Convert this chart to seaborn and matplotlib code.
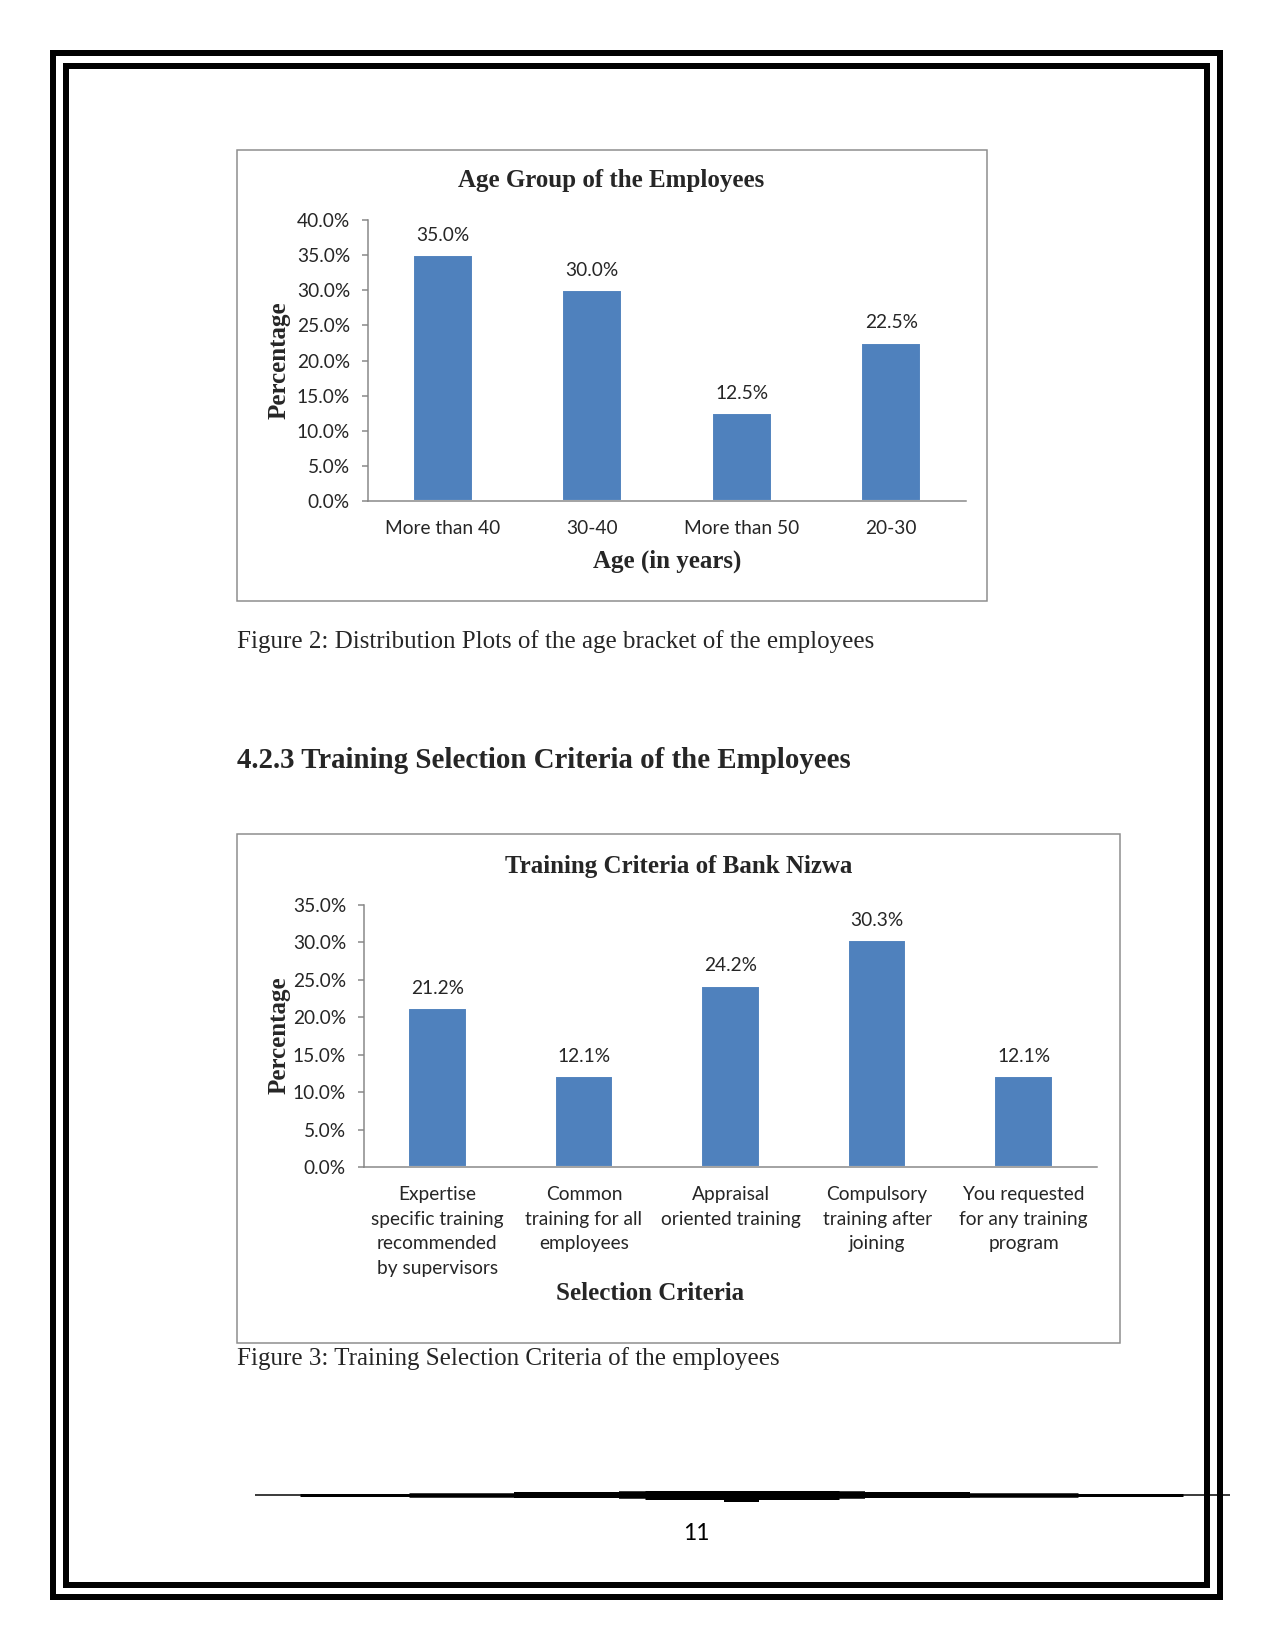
import matplotlib
matplotlib.use("Agg")
import matplotlib.pyplot as plt
import matplotlib.ticker as mticker
from matplotlib.patches import Rectangle
import pandas as pd
import seaborn as sns

# ---------------------------------------------------------------------------
# Data
# ---------------------------------------------------------------------------
age_groups = ["More than 40", "30-40", "More than 50", "20-30"]
age_share = [35.0, 30.0, 12.5, 22.5]

criteria = [
    "Expertise\nspecific training\nrecommended\nby supervisors",
    "Common\ntraining for all\nemployees",
    "Appraisal\noriented training",
    "Compulsory\ntraining after\njoining",
    "You requested\nfor any training\nprogram",
]
criteria_share = [21.2, 12.1, 24.2, 30.3, 12.1]

W, H, DPI = 1275, 1650, 150
BAR = "#4F81BD"
AXIS_GREY = "#868686"
TEXT = "#262626"
SERIF = "Liberation Serif"
SANS = "Lato"
TICK_SIZE = 9.2

sns.set_theme(style="white")
plt.rcParams["font.family"] = [SANS, "DejaVu Sans"]


def px(v):
    """pixels -> points"""
    return v * 72 / DPI


fig = plt.figure(figsize=(W / DPI, H / DPI), dpi=DPI)
fig.patch.set_facecolor("white")

# page layer in pixel coordinates (origin top-left)
page = fig.add_axes([0, 0, 1, 1], zorder=0)
page.set_xlim(0, W)
page.set_ylim(H, 0)
page.axis("off")


def frame(x0, y0, x1, y1, lw, color="black"):
    page.add_patch(Rectangle((x0, y0), x1 - x0, y1 - y0, fill=False,
                             lw=px(lw), edgecolor=color, joinstyle="miter"))


# double page border
frame(53, 53, 1220, 1597, 6)
frame(66, 66, 1207, 1585, 6)
# chart boxes
frame(237, 150, 987, 601, 1.5, "#8c8c8c")
frame(237, 834, 1120, 1343, 1.5, "#8c8c8c")


def chart_axes(x0, x1, ytop, ybot):
    return fig.add_axes([x0 / W, 1 - ybot / H, (x1 - x0) / W, (ybot - ytop) / H],
                        zorder=2)


def draw_bars(ax, cats, vals, ymax):
    df = pd.DataFrame({"cat": cats, "val": vals})
    sns.barplot(data=df, x="cat", y="val", color=BAR, saturation=1,
                width=0.4, errorbar=None, ax=ax)
    ax.bar_label(ax.containers[0], labels=[f"{v:.1f}%" for v in vals],
                 padding=5.5, fontsize=TICK_SIZE, color=TEXT)
    ax.set_ylim(0, ymax)
    ax.set_xlim(-0.5, len(cats) - 0.5)
    ax.yaxis.set_major_locator(mticker.MultipleLocator(5))
    ax.yaxis.set_major_formatter(mticker.FuncFormatter(lambda v, _: f"{v:.1f}%"))
    ax.set_facecolor("none")
    sns.despine(ax=ax)
    for s in ("left", "bottom"):
        ax.spines[s].set_color(AXIS_GREY)
        ax.spines[s].set_linewidth(px(1.5))
    ax.tick_params(axis="y", direction="out", length=px(6), width=px(1.5),
                   color=AXIS_GREY, pad=px(12), labelsize=TICK_SIZE,
                   labelcolor=TEXT, left=True)
    ax.tick_params(axis="x", length=0, pad=px(19), labelsize=TICK_SIZE,
                   labelcolor=TEXT)
    ax.set_xticks(range(len(cats)))
    ax.set_xticklabels(cats, linespacing=1.55, multialignment="center",
                       verticalalignment="top")
    ax.set_xlabel("")
    ax.set_ylabel("")


# ---------------------------------------------------------------------------
# Figure 2: age group
# ---------------------------------------------------------------------------
ax1 = chart_axes(368, 966, 220, 501)
draw_bars(ax1, age_groups, age_share, 40)

page.text(611, 181, "Age Group of the Employees", family=SERIF,
          weight="bold", size=12, ha="center", va="center")
page.text(279, 360, "Percentage", family=SERIF, weight="bold", size=12,
          rotation=90, ha="center", va="center")
page.text(667, 561, "Age (in years)", family=SERIF, weight="bold", size=12,
          ha="center", va="center")
page.text(237, 642, "Figure 2: Distribution Plots of the age bracket of the employees",
          family=SERIF, size=12, ha="left", va="center")

page.text(237, 761, "4.2.3 Training Selection Criteria of the Employees",
          family=SERIF, weight="bold", size=13.85, ha="left", va="center")

# ---------------------------------------------------------------------------
# Figure 3: training criteria
# ---------------------------------------------------------------------------
ax2 = chart_axes(364, 1097, 905, 1167)
draw_bars(ax2, criteria, criteria_share, 35)

page.text(679, 866, "Training Criteria of Bank Nizwa", family=SERIF,
          weight="bold", size=12, ha="center", va="center")
page.text(279, 1035, "Percentage", family=SERIF, weight="bold", size=12,
          rotation=90, ha="center", va="center")
page.text(650, 1293, "Selection Criteria", family=SERIF, weight="bold",
          size=12, ha="center", va="center")
page.text(237, 1359, "Figure 3: Training Selection Criteria of the employees",
          family=SERIF, size=12, ha="left", va="center")

# ---------------------------------------------------------------------------
# footer: tapered rule and page number
# ---------------------------------------------------------------------------
rule_y = 1495
for x0, x1, lw in [(255, 1230, 1.5), (300, 1183, 3), (409, 1078, 4.5),
                   (514, 970, 6), (619, 865, 7.5), (645, 839, 9)]:
    page.plot([x0, x1], [rule_y, rule_y], color="black", lw=px(lw),
              solid_capstyle="butt")
page.plot([724, 759], [rule_y + 3, rule_y + 3], color="black", lw=px(8),
          solid_capstyle="butt")
page.text(696, 1534, "11", size=11, ha="center", va="center", color="black")

fig.savefig("out.png", dpi=DPI)
plt.close(fig)
